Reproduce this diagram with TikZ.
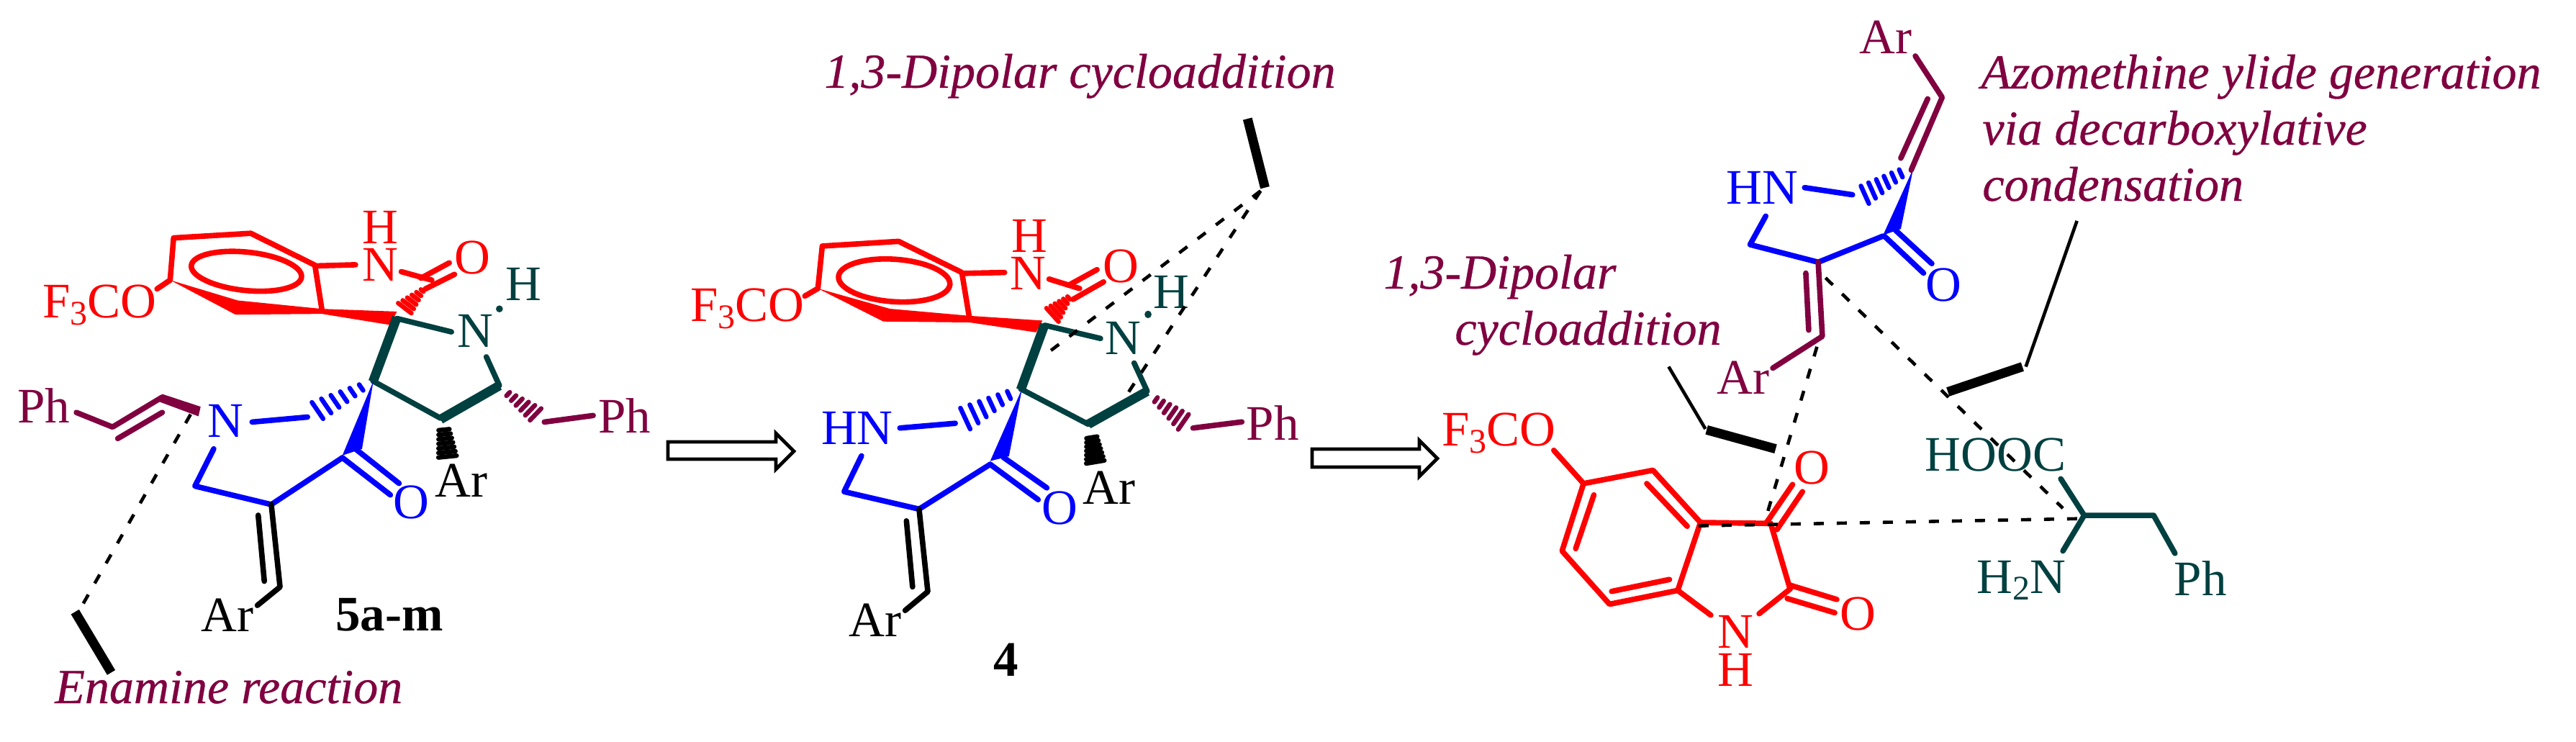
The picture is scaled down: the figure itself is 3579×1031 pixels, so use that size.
\documentclass[tikz,border=0pt]{standalone}
\usepackage{fontspec}
\setmainfont{Liberation Serif}
\newfontfamily\labfont[FakeBold=0.5]{Liberation Serif}
\definecolor{pur}{HTML}{800040}
\definecolor{tea}{HTML}{004040}
\definecolor{blu}{HTML}{0000FF}
\definecolor{rd}{HTML}{FF0000}
\tikzset{
  bd/.style={line width=3.8pt,line cap=round,line join=round},
  bdk/.style={line width=6.5pt,line cap=butt},
  thk/.style={line width=6.5pt,line cap=butt,black},
  thn/.style={line width=2.3pt,black},
  dsh/.style={line width=2.3pt,black,dash pattern=on 7pt off 9pt},
  atom/.style={inner sep=0pt,font=\fontsize{34.5}{35}\selectfont},
  lab/.style={inner sep=0pt,pur,anchor=base west,font=\fontsize{34}{39.5}\labfont\itshape},
  bld/.style={inner sep=0pt,font=\fontsize{34.5}{35}\selectfont\bfseries},
  oarrow/.style={line width=2.4pt,black,fill=white,line join=miter}
}
\newcommand\hashw[8]{%
 \foreach \t in {0,...,#8}{%
  \pgfmathsetmacro\f{\t/#8}%
  \pgfmathsetmacro\cx{#2+(#4-(#2))*\f}%
  \pgfmathsetmacro\cy{#3+(#5-(#3))*\f}%
  \pgfmathsetmacro\ln{veclen(#4-(#2),#5-(#3))}%
  \pgfmathsetmacro\hw{(#6+(#7-(#6))*\f)/2}%
  \pgfmathsetmacro\px{-(#5-(#3))/\ln*\hw}%
  \pgfmathsetmacro\py{(#4-(#2))/\ln*\hw}%
  \draw[#1,line width=3.2pt,line cap=round] (\cx+\px,\cy+\py) -- (\cx-\px,\cy-\py);
 }}
\begin{document}
\begin{tikzpicture}[x=0.5pt,y=-0.5pt]
\useasboundingbox (0,0) rectangle (3579,1031);
\fill[white] (0,0) rectangle (3579,1031);

% ---------- 5a-m
\begin{scope}[x=0.303pt,y=-0.2665pt,shift={(0pt,-100pt)}]
 \fill[rd] (390,355)--(545,408)--(738,430)--(910,437)--(895,472)--(738,443)--(540,445)--cycle;
 \draw[bd,rd] (390,355)--(398,245)--(575,233)--(722,316)--(738,432);
 \draw[bd,rd] (565,332) ellipse [x radius=127,y radius=50,rotate=-6];
 \draw[bd,rd] (722,318)--(815,315);
 \draw[bd,rd] (360,378)--(390,355);
 \draw[bd,rd] (920,333)--(990,355);
 \draw[bd,rd] (965,350)--(1030,310);
 \draw[bd,rd] (975,378)--(1042,340);
 \hashw{rd}{968}{382}{928}{428}{8}{40}{5}
 \node[atom,rd] (n5a) at (872,315) {N};
 \node[atom,rd] (h5a) at (872,218) {H};
 \node[atom,rd] (o5a) at (1083,297) {O};
 \node[atom,rd] (f5) at (228,420) {F\raisebox{-0.3ex}{\fontsize{24}{24}\selectfont 3}CO};
 % teal
 \draw[bdk,tea] (910,452)--(855,620);
 \draw[bd,tea] (910,455)--(1035,490);
 \draw[bd,tea] (855,618)--(1010,715);
 \draw[bdk,tea] (1010,718)--(1145,630);
 \draw[bd,tea] (1145,630)--(1115,555);
 \fill[tea] (1145,430) circle [x radius=8,y radius=9];
 \node[atom,tea] (n5b) at (1090,487) {N};
 \node[atom,tea] (h5b) at (1200,365) {H};
 \hashw{black}{1018}{745}{1026}{815}{25}{42}{6}
 \node[atom] (ar5a) at (1058,878) {Ar};
 \hashw{pur}{1165}{652}{1228}{705}{12}{40}{5}
 \draw[bd,pur] (1248,725)--(1360,708);
 \node[atom,pur] (ph5a) at (1432,708) {Ph};
 % blue
 \hashw{blu}{828}{635}{728}{695}{18}{50}{5}
 \draw[bd,blu] (578,725)--(705,712);
 \draw[bd,blu] (490,795)--(447,892)--(622,940)--(785,818);
 \fill[blu] (856,618)--(785,812)--(830,795)--cycle;
 \draw[bd,blu] (785,818)--(895,915);
 \draw[bd,blu] (815,795)--(915,885);
 \node[atom,blu] (n5c) at (518,722) {N};
 \node[atom,blu] (o5b) at (943,935) {O};
 % black alkene
 \draw[bd] (622,940)--(642,1155)--(590,1203);
 \draw[bd] (592,968)--(606,1140);
 \node[atom] (ar5b) at (522,1228) {Ar};
 \node[bld] (l5) at (893,1228) {5a-m};
 % purple
 \node[atom,pur] (ph5b) at (100,682) {Ph};
 \draw[bd,pur] (175,700)--(258,738)--(372,660);
 \draw[bd,pur] (270,768)--(372,700);
 \fill[pur] (372,652)--(460,685)--(455,710)--(365,672)--cycle;
 \draw[dsh] (437,705)--(185,1210);
 \draw[thk] (172,1220)--(255,1378);
\end{scope}
\node[lab] (t5) at (76,977) {Enamine reaction};

% ---------- arrows
\draw[oarrow] (928,614)--(1078,614)--(1078,602)--(1103,627)--(1078,652)--(1078,638)--(928,638)--cycle;
\draw[oarrow] (1823,624)--(1972,624)--(1972,612)--(1997,637)--(1972,662)--(1972,649)--(1823,649)--cycle;

% ---------- 4
\begin{scope}[x=0.303pt,y=-0.3275pt,shift={(450pt,0pt)}]
 \fill[rd] (390,612)--(555,655)--(738,670)--(905,680)--(890,705)--(738,684)--(540,682)--cycle;
 \draw[bd,rd] (390,612)--(400,522)--(575,512)--(720,578)--(738,678);
 \draw[bd,rd] (565,595) ellipse [x radius=128,y radius=45,rotate=-4];
 \draw[bd,rd] (720,580)--(818,578);
 \draw[bd,rd] (360,628)--(390,612);
 \draw[bd,rd] (920,592)--(990,612);
 \draw[bd,rd] (965,605)--(1030,572);
 \draw[bd,rd] (975,635)--(1045,598);
 \hashw{rd}{965}{632}{928}{668}{8}{40}{5}
 \node[atom,rd] (n4a) at (872,580) {N};
 \node[atom,rd] (h4a) at (875,500) {H};
 \node[atom,rd] (o4a) at (1085,565) {O};
 \node[atom,rd] (f4) at (228,655) {F\raisebox{-0.3ex}{\fontsize{24}{24}\selectfont 3}CO};
 \draw[bdk,tea] (910,688)--(855,827);
 \draw[bd,tea] (910,690)--(1038,718);
 \draw[bd,tea] (855,825)--(1010,900);
 \draw[bdk,tea] (1010,900)--(1145,830);
 \draw[bd,tea] (1145,830)--(1115,770);
 \fill[tea] (1147,667) circle [x radius=8,y radius=8];
 \node[atom,tea] (n4b) at (1090,718) {N};
 \node[atom,tea] (h4b) at (1200,620) {H};
 \hashw{black}{1018}{928}{1026}{980}{25}{42}{6}
 \node[atom] (ar4a) at (1058,1035) {Ar};
 \hashw{pur}{1165}{848}{1228}{895}{12}{40}{5}
 \draw[bd,pur] (1250,908)--(1362,895);
 \node[atom,pur] (ph4) at (1433,897) {Ph};
 \hashw{blu}{828}{838}{728}{888}{18}{50}{5}
 \draw[bd,blu] (578,908)--(705,898);
 \draw[bd,blu] (490,967)--(450,1043)--(622,1080)--(785,985);
 \fill[blu] (858,825)--(785,978)--(828,968)--cycle;
 \draw[bd,blu] (785,985)--(895,1060);
 \draw[bd,blu] (815,970)--(915,1035);
 \node[atom,blu] (n4c) at (480,908) {HN};
 \node[atom,blu] (o4b) at (945,1078) {O};
 \draw[bd] (622,1080)--(642,1255)--(590,1295);
 \draw[bd] (593,1105)--(607,1245);
 \node[atom] (ar4b) at (522,1315) {Ar};
 \node[bld] (l4) at (822,1400) {4};
 \coordinate (d4) at (1405,405);
 \draw[dsh] (d4)--(915,750);
 \draw[dsh] (d4)--(1100,835);
 \draw[thk] (1375,252)--(1415,398);
\end{scope}
\node[lab] (t4) at (1145,122) {1,3-Dipolar cycloaddition};

% ---------- right part (zoom 3 frame)
\begin{scope}[x=0.287pt,y=-0.33pt,shift={(900pt,0pt)}]
 \draw[thn] (903,772)--(992,903);
 \draw[thk] (995,905)--(1162,945);
 \draw[dsh] (1262,730)--(1135,1100);
 \node[atom,rd] (f1) at (492,912) {F\raisebox{-0.3ex}{\fontsize{24}{24}\selectfont 3}CO};
 \draw[bd,rd] (625,948)--(697,1018);
 \draw[bd,rd] (697,1018)--(865,990)--(980,1100)--(925,1243)--(760,1272)--(645,1160)--cycle;
 \draw[bd,rd] (850,1018)--(948,1108);
 \draw[bd,rd] (722,1042)--(678,1155);
 \draw[bd,rd] (765,1245)--(905,1220);
 \draw[bd,rd] (980,1100)--(1150,1102)--(1197,1240)--(1122,1292);
 \draw[bd,rd] (925,1243)--(1005,1295);
 \draw[bd,rd] (1140,1100)--(1203,1020);
 \draw[bd,rd] (1165,1115)--(1227,1035);
 \draw[bd,rd] (1197,1232)--(1310,1262);
 \draw[bd,rd] (1190,1260)--(1305,1290);
 \node[atom,rd] (o1a) at (1250,985) {O};
 \node[atom,rd] (o1b) at (1362,1292) {O};
 \node[atom,rd] (n1) at (1065,1330) {N};
 \node[atom,rd] (h1) at (1065,1410) {H};
 % pyrrolidinone
 \node[atom,blu] (n2) at (1130,395) {HN};
 \draw[bd,blu] (1232,395)--(1348,410);
 \hashw{blu}{1465}{365}{1378}{410}{18}{42}{5}
 \fill[blu] (1495,355)--(1422,495)--(1465,482)--cycle;
 \draw[bd,blu] (1138,455)--(1100,515)--(1265,552)--(1422,497);
 \draw[bd,blu] (1425,497)--(1520,575);
 \draw[bd,blu] (1450,483)--(1540,555);
 \draw[bd,pur] (1265,552)--(1275,708)--(1155,775);
 \draw[bd,pur] (1235,575)--(1242,695);
 \node[atom,pur] (ar2a) at (1083,795) {Ar};
 \draw[bd,pur] (1490,358)--(1565,205)--(1500,118);
 \draw[bd,pur] (1465,333)--(1530,208);
 \node[atom,pur] (ar2b) at (1428,78) {Ar};
\end{scope}
\node[lab] (t1) at (1922,401) {1,3-Dipolar};
\node[lab] (t2) at (2021,479) {cycloaddition};

% ---------- right part (zoom 4 frame)
\begin{scope}[x=0.296pt,y=-0.33pt,shift={(1325pt,0pt)}]
 \node[atom,blu] (o2) at (85,600) {O};
 \draw[dsh] (-192,585)--(365,1070);
 \draw[dsh] (-490,1107)--(400,1092);
 \node[atom,tea] (hooc) at (207,958) {HOOC};
 \draw[bd,tea] (360,1008)--(415,1085)--(578,1085)--(628,1165);
 \draw[bd,tea] (415,1085)--(365,1160);
 \node[atom,tea] (h2n) at (268,1222) {H\raisebox{-0.3ex}{\fontsize{24}{24}\selectfont 2}N};
 \node[atom,tea] (ph3) at (688,1218) {Ph};
 \draw[thk] (95,825)--(270,772);
 \draw[thn] (278,772)--(398,465);
\end{scope}
\node[lab] (t3a) at (2752,123) {Azomethine ylide generation};
\node[lab] (t3b) at (2754,201) {via decarboxylative};
\node[lab] (t3c) at (2754,279) {condensation};
\end{tikzpicture}
\end{document}
